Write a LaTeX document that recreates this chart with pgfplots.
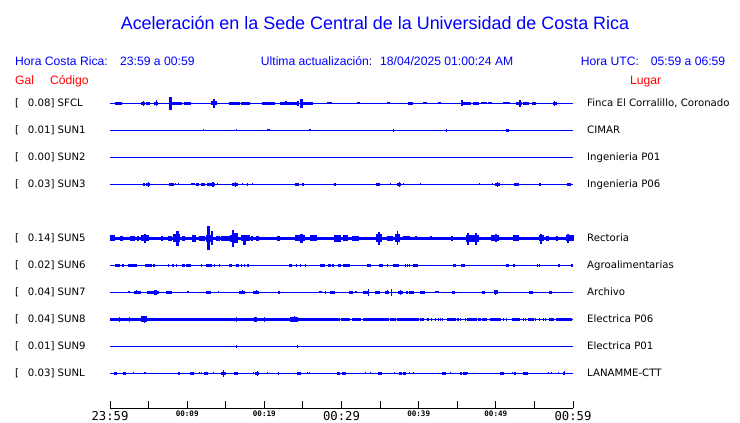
\documentclass[border=0pt]{standalone}
\usepackage{pgfplots}
\pgfplotsset{compat=1.18}
\usepackage{pgfplotstable}
\usepackage{fontspec}
\setmainfont{DejaVu Sans}
\newfontfamily\arial{Liberation Sans}
\newfontfamily\mono{DejaVu Sans Mono}
\definecolor{tb}{RGB}{0,0,255}
\definecolor{tr}{RGB}{255,0,0}

\pgfdeclareplotmark{blk}{\pgfpathrectanglecorners{\pgfpoint{-\bw bp}{-\bd bp}}{\pgfpoint{\bw bp}{\bu bp}}\pgfusepathqfill}
\pgfplotsset{burst/.style={only marks, mark=blk, tb,
  visualization depends on={((\thisrow{b}-\thisrow{a})/3+1)/2 \as \bw},
  visualization depends on={\thisrow{u}+0 \as \bu},
  visualization depends on={\thisrow{d}+0 \as \bd}}}
\newcommand\bursts[2]{\addplot[burst] table[x expr={((\thisrow{a}+\thisrow{b})/2-15)/23.25}, y expr=#2]{#1};}
\newcommand\base[2][1bp]{\addplot[tb, line width=#1] coordinates {(0,#2) (60,#2)};}

% burst tables: a b = start/end (0..1410 scale, 15 = 23:59, 1410 = 00:59), u d = half-heights in px
\pgfplotstableread{
a b u d
33 37 1.3 1.3
40 50 1.3 1.3
62 62 0.7 0.7
73 73 0.7 0.7
88 88 0.7 0.7
95 95 0.7 0.7
100 100 0.7 0.7
105 105 0.7 0.7
110 120 1.3 1.3
115 115 2.7 2.7
125 135 1.7 1.7
140 140 0.7 0.7
150 158 1.3 1.3
154 154 3 3
165 170 0.7 0.7
175 175 0.7 0.7
195 200 6 7
200 230 1.5 1.5
238 258 1.3 1.3
275 275 0.7 0.7
285 285 0.7 0.7
300 300 0.7 0.7
320 335 2 2
327 330 4 5
350 350 0.7 0.7
375 405 1.3 1.3
412 436 1.3 1.3
448 448 0.7 0.7
475 510 1.3 1.3
516 516 0.7 0.7
530 580 1.5 1.5
545 548 2 2
580 583 2.5 2.5
590 595 4 4.5
595 625 1.7 1.7
670 683 1 1
695 695 0.7 0.7
750 750 0.7 0.7
762 768 1 1
830 830 0.7 0.7
850 856 1 1
875 875 0.7 0.7
882 882 0.7 0.7
888 888 0.7 0.7
900 900 0.7 0.7
915 927 1.3 1.3
940 940 0.7 0.7
960 970 1 1
1005 1010 1 1
1040 1040 0.7 0.7
1048 1048 0.7 0.7
1055 1055 0.7 0.7
1075 1100 1.3 1.3
1075 1077 3 3
1110 1125 1.3 1.3
1135 1150 1 1
1155 1165 1 1
1200 1220 1 1
1240 1255 1.7 1.7
1248 1252 3.5 3.5
1260 1275 1.3 1.3
1288 1298 1.3 1.3
1352 1360 1.5 1.5
1355 1355 2.5 2.5
1370 1370 0.7 0.7
1390 1390 0.7 0.7
}\sfcl

\pgfplotstableread{
a b u d
298 298 1 0
395 395 1 0
490 497 1 1
615 620 1 1
870 870 1.3 1.3
1030 1030 1.3 1.3
1210 1216 1.3 1.3
}\sunone

\pgfplotstableread{
a b u d
58 58 0.7 0
115 120 1.3 1.3
125 135 1.7 1.7
130 130 2.3 2.3
195 205 1.3 1.3
212 212 1 1
222 222 1 1
250 250 0.7 0
262 270 1 1
275 282 1.3 1.3
290 300 1.3 1.3
310 330 1.3 1.3
325 328 2.3 2.3
338 338 1 1
362 362 0.7 0.7
372 372 0.7 0.7
378 378 0.7 0.7
385 400 1.7 1.7
393 393 2.3 2.3
415 415 1 1
428 430 1.3 1.3
445 445 1 1
575 582 1.3 1.3
595 598 1.3 1.3
630 630 0.7 0
690 695 1.3 1.3
703 703 0.7 0
818 828 1.3 1.3
832 832 0.7 0
860 860 1 1
880 890 1.3 1.3
886 886 2.3 2.3
898 898 1 1
952 952 1 1
1108 1108 0.7 0.7
1113 1113 0.7 0.7
1127 1127 1 1
1168 1168 1 1
1178 1188 1.7 1.7
1182 1182 2.5 2.5
1233 1247 1.3 1.3
1310 1313 1.3 1.3
1340 1340 0.7 0
1393 1403 1.3 1.3
}\sunthree

\pgfplotstableread{
a b u d
18 30 3 3
48 52 2.3 2.3
78 88 2.3 2.3
98 102 2.3 2.3
110 130 3 3
118 122 4.3 4.7
170 173 2.3 2.3
190 200 2.7 2.7
205 225 4 4
215 220 7.7 8
232 240 2.7 2.7
265 272 3.3 3.3
285 300 2.3 2.3
305 325 3.3 3.3
310 315 12 11.3
320 323 7 7
335 345 2.3 2.3
350 375 2.3 2.3
378 400 3.5 3.5
383 388 8.7 9
390 398 5 5
412 435 3 3
418 422 3.3 6.7
440 445 2.3 2.3
455 462 2.3 2.3
520 525 2.3 2.3
575 600 3 3
590 594 4 5
620 637 3 3
690 710 3.3 3.3
720 730 3 3
745 765 2.3 2.3
818 832 4 4
825 828 6 6.7
850 865 2.3 2.3
875 888 4 4
880 882 7 7
900 918 2 2
935 938 2 2
980 985 2 2
1045 1048 2.3 2.3
1088 1125 3.3 3.3
1092 1095 5 6.7
1115 1120 5 7
1165 1185 3 3
1175 1178 4 4
1232 1245 3 3
1310 1320 3 3
1313 1316 4.3 5.7
1330 1335 2.3 2.3
1360 1363 2.3 2.3
1390 1410 3 3
1393 1395 4 5
}\sunfive

\pgfplotstableread{
a b u d
33 45 1.3 1.3
52 55 1.3 1.3
70 77 1.3 1.3
80 85 1.3 1.3
90 95 1.3 1.3
122 140 1.3 1.3
145 148 1.3 1.3
178 178 0.7 0.7
190 190 1.3 1.3
203 207 1.3 1.3
215 215 1.3 1.3
232 236 1.3 1.3
240 240 1.3 1.3
247 258 1.3 1.3
290 290 1.3 1.3
307 315 1.3 1.3
318 322 1.3 1.3
330 330 1.3 1.3
345 345 1.3 1.3
375 380 1.3 1.3
395 403 1.3 1.3
412 412 1.3 1.3
420 420 1.3 1.3
430 433 1.3 1.3
465 465 0.7 0.7
555 562 1.3 1.3
578 578 1.3 1.3
590 590 1.3 1.3
605 605 1.3 1.3
650 658 1.3 1.3
662 662 1.3 1.3
672 678 1.3 1.3
685 688 1.3 1.3
703 710 1.3 1.3
720 735 1.3 1.3
738 738 1.3 1.3
790 800 1.3 1.3
828 835 1.3 1.3
852 852 1.3 1.3
870 885 1.3 1.3
905 905 1.3 1.3
912 912 1.3 1.3
918 918 1.3 1.3
928 942 1.3 1.3
978 978 0.7 0.7
1050 1055 1.3 1.3
1075 1082 1.3 1.3
1210 1215 1.3 1.3
1230 1235 1.3 1.3
1282 1282 0.7 0.7
1303 1303 1.3 1.3
1310 1310 1.3 1.3
1365 1370 1.3 1.3
1405 1408 1.3 1.3
}\sunsix

\pgfplotstableread{
a b u d
70 73 1 1
88 106 1.7 1.7
95 95 2 2
120 120 0.7 0.7
128 160 1.7 1.7
150 155 2.5 2.5
185 200 1.3 1.3
250 253 1 1
305 318 1.3 1.3
328 328 0.7 0.7
343 343 1 1
398 398 0.7 0.7
405 420 1.5 1.5
415 415 2 2
448 462 1.5 1.5
455 455 2 2
522 527 1.3 1.3
640 640 0.7 0.7
645 652 1 1
665 665 1.3 1.3
680 690 1.3 1.3
738 745 1.3 1.3
755 758 1 1
772 772 0.7 0.7
780 790 1.3 1.3
793 793 3.3 3.3
815 828 1.3 1.3
845 855 1.3 1.3
850 850 2 2
862 862 3.3 3.3
885 895 1.5 1.5
890 890 2.3 2.3
908 912 1.3 1.3
918 928 1.5 1.5
952 962 1.3 1.3
997 1005 1 1
1048 1052 1.3 1.3
1138 1142 1.3 1.3
1172 1182 2 2
1178 1178 2.7 2.7
1280 1288 1.3 1.3
1340 1345 1.7 1.7
}\sunseven

\pgfplotstableread{
a b u d
45 45 2.3 2.3
73 73 2.3 2.3
110 125 3 3
118 118 3.3 4
275 275 0 1.7
358 358 1.7 1.7
395 395 2.3 2.3
412 412 1.7 1.7
450 455 2.3 2.3
480 480 2.3 2.3
560 580 2.3 2.3
572 572 3 3
668 688 1.3 1.3
690 705 1.3 1.3
712 738 1.3 1.3
745 770 1.3 1.3
778 800 1.3 1.3
802 855 1.3 1.3
860 875 1.3 1.3
880 928 1.3 1.3
930 945 1.3 1.3
950 960 1.3 1.3
972 976 1.3 1.3
985 985 1.3 1.3
997 997 1.3 1.3
1005 1005 1.3 1.3
1012 1012 1.3 1.3
1018 1018 1.3 1.3
1033 1043 1.3 1.3
1048 1055 1.3 1.3
1062 1065 1.3 1.3
1072 1072 1.3 1.3
1085 1085 1.3 1.3
1092 1118 1.3 1.3
1125 1130 1.3 1.3
1138 1145 1.3 1.3
1150 1150 1.3 1.3
1160 1172 1.3 1.3
1178 1192 1.7 1.7
1200 1200 1.3 1.3
1210 1210 1.3 1.3
1228 1250 1.3 1.3
1262 1262 1.3 1.3
1268 1268 1.3 1.3
1275 1290 1.3 1.3
1298 1298 1.3 1.3
1310 1310 1.3 1.3
1320 1320 1.3 1.3
1328 1328 1.3 1.3
1340 1352 1.3 1.3
1360 1405 1.7 1.7
}\suneight

\pgfplotstableread{
a b u d
395 395 1.3 1.3
580 580 1.3 1.3
}\sunnine

\pgfplotstableread{
a b u d
30 36 1.3 1.3
50 50 0.7 0.7
55 63 1.3 1.3
85 85 1 1
118 122 1 1
220 224 1.3 1.3
258 268 1.3 1.3
285 285 1 1
292 292 1 1
300 310 1.3 1.3
328 328 1 1
350 362 1.7 1.7
358 358 3.3 3.3
390 398 1.5 1.5
432 432 0.7 0.7
448 448 1 1
453 462 1.5 1.5
458 458 2.5 2.5
490 490 1 1
523 523 1.3 1.3
580 590 1.3 1.3
610 610 1 1
615 615 1 1
700 705 1.3 1.3
715 725 1.3 1.3
735 735 0.7 0.7
785 785 1 1
800 800 1 1
825 832 1.3 1.3
872 872 1 1
888 893 1.3 1.3
900 905 1.3 1.3
918 918 1 1
930 930 1 1
1018 1025 1.3 1.3
1042 1042 1 1
1072 1075 1.3 1.3
1080 1088 1.3 1.3
1093 1093 1 1
1193 1202 1.3 1.3
1228 1228 1 1
1233 1238 1.3 1.3
1262 1272 1.3 1.3
1336 1336 1 1
1345 1345 1 1
1365 1365 1 1
1380 1385 1.3 1.3
1383 1383 2 2
}\sunl

\newcommand\bigt[1]{{\mono\fontsize{12.3}{12.3}\selectfont #1}}
\newcommand\smt[1]{\raisebox{3.3bp}{\mono\bfseries\fontsize{7.6}{7.6}\selectfont #1}}

\begin{document}
\begin{tikzpicture}
\useasboundingbox (0,0) rectangle (740bp,423bp);
\begin{axis}[at={(110bp,15bp)}, anchor=south west, scale only axis,
  width=463bp, height=393bp, xmin=0, xmax=60, ymin=15, ymax=408,
  axis x line*=bottom, axis y line=none, clip=false,
  xtick={0,5,...,60},
  xticklabels={\bigt{23:59},,\smt{00:09},,\smt{00:19},,\bigt{00:29},,\smt{00:39},,\smt{00:49},,\bigt{00:59}},
  xtick align=inside, major tick length=7bp,
  every tick/.style={black, line width=0.9bp},
  axis line style={black, line width=0.9bp},
  xticklabel style={anchor=base, yshift=-12bp, inner sep=0pt}]
% baselines
\base{319.7}
\base{292.7}
\base{265.7}
\base{238.7}
\base[3.4bp]{184.7}
\base{157.7}
\base{130.7}
\base{103.7}
\addplot[tb, line width=3.4bp] coordinates {(0,103.7) (27.96,103.7)};
\base{76.7}
\base{49.7}
% bursts
\bursts{\sfcl}{319.7}
\bursts{\sunone}{292.7}
\bursts{\sunthree}{238.7}
\bursts{\sunfive}{184.7}
\bursts{\sunsix}{157.7}
\bursts{\sunseven}{130.7}
\bursts{\suneight}{103.7}
\bursts{\sunnine}{76.7}
\bursts{\sunl}{49.7}
\end{axis}
% title and header
\node[anchor=base, inner sep=0, text=tb, font=\arial\fontsize{18}{18}\selectfont] at (375bp,393.5bp) {Aceleración en la Sede Central de la Universidad de Costa Rica};
\begin{scope}[every node/.style={anchor=base west, inner sep=0, text=tb, font=\arial\fontsize{12.2}{12.2}\selectfont}]
\node at (15bp,357.3bp) {Hora Costa Rica:};
\node at (120bp,357.3bp) {23:59 a 00:59};
\node at (260.7bp,357.3bp) {Ultima actualización:};
\node at (380bp,357.3bp) {18/04/2025 01:00:24 AM};
\node at (580.7bp,357.3bp) {Hora UTC:};
\node at (650.7bp,357.3bp) {05:59 a 06:59};
\node[text=tr] at (15bp,338bp) {Gal};
\node[text=tr] at (50bp,338bp) {Código};
\node[text=tr] at (630bp,338bp) {Lugar};
\end{scope}
% station labels
\begin{scope}[every node/.style={anchor=base west, inner sep=0, text=black, font=\fontsize{10.2}{10.2}\selectfont}]
\node at (15bp,316bp) {[}; \node at (27.7bp,316bp) {0.08] SFCL}; \node at (587bp,316bp) {Finca El Corralillo, Coronado};
\node at (15bp,289bp) {[}; \node at (27.7bp,289bp) {0.01] SUN1}; \node at (587bp,289bp) {CIMAR};
\node at (15bp,262bp) {[}; \node at (27.7bp,262bp) {0.00] SUN2}; \node at (587bp,262bp) {Ingenieria P01};
\node at (15bp,235bp) {[}; \node at (27.7bp,235bp) {0.03] SUN3}; \node at (587bp,235bp) {Ingenieria P06};
\node at (15bp,181bp) {[}; \node at (27.7bp,181bp) {0.14] SUN5}; \node at (587bp,181bp) {Rectoria};
\node at (15bp,154bp) {[}; \node at (27.7bp,154bp) {0.02] SUN6}; \node at (587bp,154bp) {Agroalimentarias};
\node at (15bp,127bp) {[}; \node at (27.7bp,127bp) {0.04] SUN7}; \node at (587bp,127bp) {Archivo};
\node at (15bp,100bp) {[}; \node at (27.7bp,100bp) {0.04] SUN8}; \node at (587bp,100bp) {Electrica P06};
\node at (15bp,73bp) {[}; \node at (27.7bp,73bp) {0.01] SUN9}; \node at (587bp,73bp) {Electrica P01};
\node at (15bp,46bp) {[}; \node at (27.7bp,46bp) {0.03] SUNL}; \node at (587bp,46bp) {LANAMME-CTT};
\end{scope}
\end{tikzpicture}
\end{document}
